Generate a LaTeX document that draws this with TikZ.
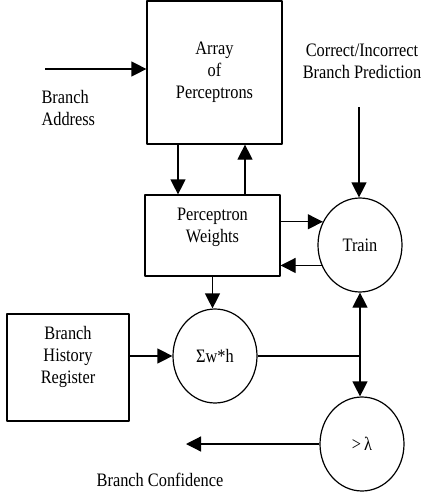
\documentclass[tikz,border=0pt]{standalone}
\usepackage{fontspec}
\setmainfont{Liberation Serif}[FakeStretch=0.86]
\usetikzlibrary{arrows.meta, positioning, shapes}
\tikzset{box/.style={draw,line width=1.2pt,align=center},
	unit/.style={draw,ellipse,line width=1.2pt,minimum width=84pt,minimum height=94pt,inner sep=0pt},
	arr/.style={line width=1.2pt,-{Triangle[length=15pt,width=15pt]}}}

\begin{document}
\begin{tikzpicture}[x=1pt,y=-1pt,font=\fontsize{19}{22}\selectfont,line join=round]
		\useasboundingbox (0,0) rectangle (422,493);
		\begin{scope}
		\node[box,minimum width=135pt,minimum height=143pt] (array) at (214.5,72.5) {Array\\of\\Perceptrons};
		\node[box,minimum width=135pt,minimum height=81pt,label={[align=center,yshift=8pt]center:Perceptron\\Weights}] (pw) at (212.5,235.5) {};
		\node[box,minimum width=122pt,minimum height=107pt,label={[align=center,yshift=11pt]center:Branch\\History\\Register}] (bhr) at (68,367.5) {};
		\node[unit] (train) at (360,245) {Train};
		\node[unit] (sum) at (215,356) {Σw*h};
		\node[unit] (lam) at (362,444) {>\,λ};
		\node[anchor=west,align=left] (addrtext) at (38,108) {Branch\\Address};
		\node[align=center] (cortext) at (362,61) {Correct/Incorrect\\Branch Prediction};
		\node (conftext) at (160,480) {Branch Confidence};
		\coordinate (addr) at (45,69);
		\coordinate (cin) at (359,107);
		\coordinate (c1) at (178,0);
		\coordinate (c2) at (245,0);
		\coordinate (j) at (360,356);
		\coordinate (conf) at (186,446);
		\draw[arr] (addr) -- (addr -| array.west);
		\draw[arr] (c1 |- array.south) -- (c1 |- pw.north);
		\draw[arr] (c2 |- pw.north) -- (c2 |- array.south);
		\draw[arr] (cin) -- (cin |- train.north);
		\draw[arr] (pw.east |- train.148) -- (train.148);
		\draw[arr] (train.208) -- (train.208 -| pw.east);
		\draw[arr] (pw.south) -- (pw.south |- sum.north);
		\draw[arr] (bhr.east |- sum.west) -- (sum.west);
		\draw[line width=1.2pt] (sum.east) -- (j);
		\draw[arr] (j) -- (train.south);
		\draw[arr] (j) -- (j |- lam.north);
		\draw[arr] (lam.west) -- (lam.west -| conf);
		\end{scope}
	\end{tikzpicture}
\end{document}
